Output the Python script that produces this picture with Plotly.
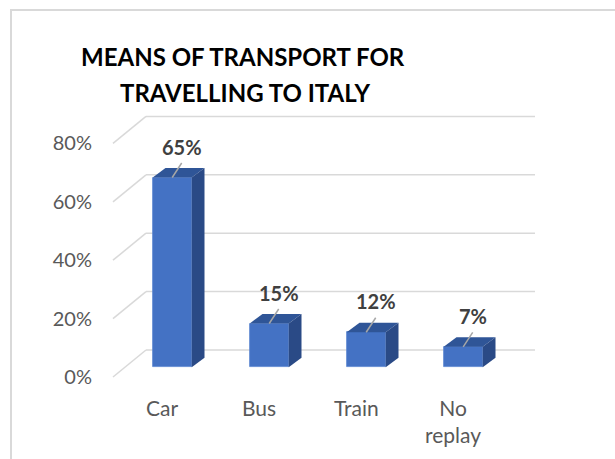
import plotly.graph_objects as go

# ---- data ----
categories = ["Car", "Bus", "Train", "No<br>replay"]
values = [0.65, 0.15, 0.12, 0.07]
value_labels = ["65%", "15%", "12%", "7%"]
grid_values = [0.0, 0.2, 0.4, 0.6, 0.8]
grid_labels = ["0%", "20%", "40%", "60%", "80%"]
title_lines = ["MEANS OF TRANSPORT FOR", "TRAVELLING TO ITALY"]

# ---- geometry (pixels -> data conversion constants) ----
W, H = 615, 459
L, R, T, B = 100, 55, 100, 30
pw, ph = W - L - R, H - T - B
x0_px, x_step = 172.2, 97.0      # centre of first bar front, category spacing
y0_px, y_unit = 367.3, 292.0     # bar baseline pixel, pixels per 100%

def ux(px):
    return (px - x0_px) / x_step

def uy(py):
    return (y0_px - py) / y_unit

def paper_x(px):
    return (px - L) / pw

def paper_y(py):
    return (H - B - py) / ph

xs = list(range(len(categories)))
bar_w = 39 / x_step
dx, dy = 12.8 / x_step, 9.5 / y_unit
back_off = uy(350)                # back wall offset
front_off = uy(377)               # front plane offset
back_left, back_right = ux(146), ux(535)
front_left = ux(113)

FRONT = "#4472C4"
TOP = "#2F5597"
SIDE = "#2A4A86"
GRID = "#D9D9D9"

fig = go.Figure()
fig.add_trace(go.Bar(
    x=xs, y=values, width=bar_w,
    marker=dict(color=FRONT, line=dict(color="#5B86D0", width=0.8)),
    hoverinfo="skip", showlegend=False,
))

shapes = []
for v in grid_values:
    shapes.append(dict(type="line", xref="x", yref="y", layer="below",
                       x0=back_left, x1=back_right, y0=v + back_off, y1=v + back_off,
                       line=dict(color=GRID, width=1.5)))
    shapes.append(dict(type="line", xref="x", yref="y", layer="below",
                       x0=front_left, x1=back_left, y0=v + front_off, y1=v + back_off,
                       line=dict(color=GRID, width=1.5)))

for x, v in zip(xs, values):
    xl, xr = x - bar_w / 2, x + bar_w / 2
    top = f"M{xl},{v} L{xr},{v} L{xr+dx},{v+dy} L{xl+dx},{v+dy} Z"
    side = f"M{xr},0 L{xr},{v} L{xr+dx},{v+dy} L{xr+dx},{dy} Z"
    shapes.append(dict(type="path", path=top, xref="x", yref="y", layer="above",
                       fillcolor=TOP, line=dict(width=0)))
    shapes.append(dict(type="path", path=side, xref="x", yref="y", layer="above",
                       fillcolor=SIDE, line=dict(width=0)))
    shapes.append(dict(type="line", xref="x", yref="y", layer="above",
                       x0=x, y0=v, x1=x + 9.5 / x_step, y1=v + 14.5 / y_unit,
                       line=dict(color="#A6A6A6", width=1.5)))

# chart border (top + left)
shapes.append(dict(type="line", xref="paper", yref="paper",
                   x0=paper_x(10), x1=paper_x(615), y0=paper_y(10), y1=paper_y(10),
                   line=dict(color=GRID, width=2)))
shapes.append(dict(type="line", xref="paper", yref="paper",
                   x0=paper_x(11), x1=paper_x(11), y0=paper_y(10), y1=paper_y(459),
                   line=dict(color=GRID, width=2)))

annotations = []
FONT = "Lato"
for x, v, lab in zip(xs, values, value_labels):
    annotations.append(dict(x=x, y=v, xref="x", yref="y", text=f"<b>{lab}</b>",
                            showarrow=False, xshift=9.5, yshift=31,
                            font=dict(family=FONT, size=20, color="#404040")))
for x, c in zip(xs, categories):
    annotations.append(dict(x=x - 10 / x_step, y=uy(393), xref="x", yref="y", text=c,
                            showarrow=False, yanchor="top", xanchor="center",
                            font=dict(family=FONT, size=21, color="#595959")))
for (cx, cy), line in zip([(242.5, 57), (245, 92)], title_lines):
    annotations.append(dict(x=paper_x(cx), y=paper_y(cy), xref="paper", yref="paper",
                            text=f"<b>{line}</b>", showarrow=False,
                            xanchor="center", yanchor="middle",
                            font=dict(family=FONT, size=24, color="#000000")))

fig.update_layout(
    width=W, height=H, autosize=False,
    margin=dict(l=L, r=R, t=T, b=B),
    paper_bgcolor="white", plot_bgcolor="white",
    shapes=shapes, annotations=annotations,
    xaxis=dict(range=[ux(L), ux(W - R)], showgrid=False, zeroline=False,
               showticklabels=False, showline=False, fixedrange=True),
    yaxis=dict(range=[uy(H - B), uy(T)], showgrid=False, zeroline=False,
               showline=False, tickvals=[v + front_off for v in grid_values],
               ticktext=grid_labels, ticks="", ticklabelstandoff=7,
               tickfont=dict(family=FONT, size=20, color="#595959"), fixedrange=True),
    bargap=0,
)

fig.write_html("out.html", config={"displayModeBar": False},
               post_script="document.body.style.margin='0';document.body.style.overflow='hidden';")
